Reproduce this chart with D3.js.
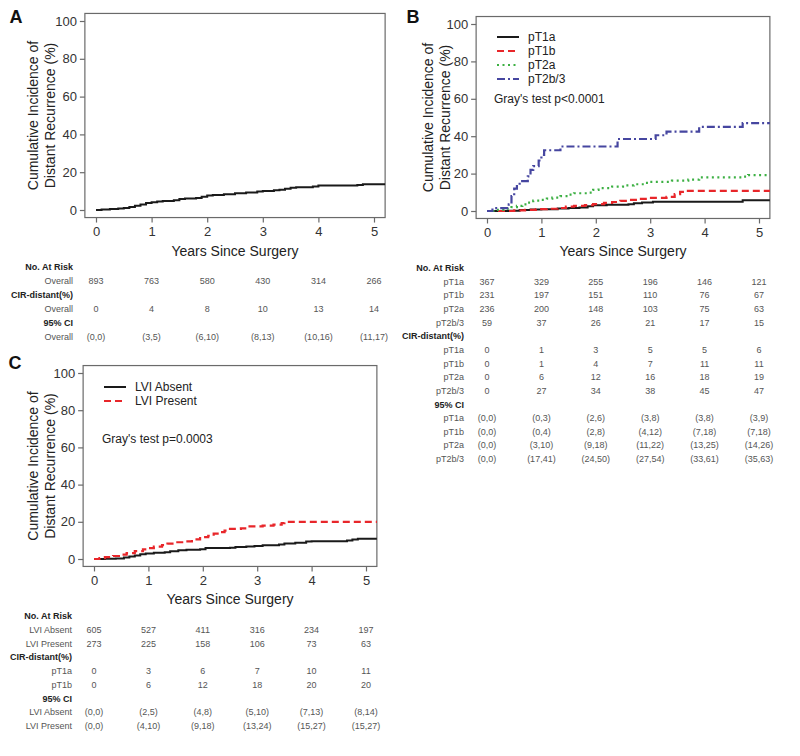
<!DOCTYPE html>
<html><head><meta charset="utf-8">
<script src="https://cdn.jsdelivr.net/npm/d3@7"></script>
<style>body{margin:0;background:#fff}svg{display:block}text{font-family:"Liberation Sans",Arial,sans-serif}</style>
</head><body>
<script>
// ---------- DATA ----------
const years = [0,1,2,3,4,5];
const yTicks = [0,20,40,60,80,100];

// Panel A
const overallCurve = [[0,0],[0.1,0.2],[0.25,0.5],[0.4,0.8],[0.5,1.1],[0.6,1.6],[0.7,2.3],[0.8,2.9],[0.9,3.7],[1.0,4.1],[1.1,4.5],[1.2,4.8],[1.4,5.2],[1.5,5.8],[1.6,6.1],[1.8,6.4],[1.9,7.0],[2.0,7.7],[2.1,8.0],[2.3,8.3],[2.5,8.8],[2.7,9.3],[2.9,9.8],[3.0,10.1],[3.2,10.4],[3.3,10.7],[3.4,11.2],[3.5,11.8],[3.6,12.0],[3.9,12.4],[4.0,12.9],[4.7,13.2],[4.8,13.6],[5.2,13.6]];
const overallRisk = ["893","763","580","430","314","266"];
const overallCIR = ["0","4","8","10","13","14"];
const overallCI = ["(0,0)","(3,5)","(6,10)","(8,13)","(10,16)","(11,17)"];

// Panel B
const stageNames = ["pT1a","pT1b","pT2a","pT2b/3"];
const pT1aCurve = [[0,0],[0.4,0.2],[0.6,0.5],[0.8,0.8],[1.0,1.0],[1.3,1.3],[1.5,1.6],[1.7,1.9],[1.85,2.6],[1.95,3.1],[2.2,3.3],[2.6,3.6],[2.7,4.1],[2.85,4.5],[3.05,5.0],[4.7,5.7],[5.2,5.7]];
const pT1bCurve = [[0,0],[0.5,0.3],[0.7,0.6],[0.9,1.0],[1.1,1.2],[1.3,1.6],[1.45,2.3],[1.6,2.7],[1.8,3.1],[1.95,3.7],[2.15,4.3],[2.3,4.8],[2.45,5.4],[2.6,5.9],[2.8,6.5],[2.95,7.0],[3.3,7.6],[3.45,9.0],[3.55,10.2],[3.6,10.8],[5.2,10.8]];
const pT2aCurve = [[0,0],[0.15,0.6],[0.3,1.2],[0.45,2.1],[0.55,2.7],[0.65,3.5],[0.75,4.5],[0.85,5.5],[1.0,6.0],[1.1,6.6],[1.2,7.1],[1.35,8.0],[1.5,8.8],[1.6,9.5],[1.85,9.8],[1.95,11.3],[2.05,12.2],[2.3,13.0],[2.5,13.7],[2.7,14.3],[2.9,15.0],[3.0,15.6],[3.4,16.2],[3.7,16.8],[3.9,18.0],[4.7,18.4],[4.8,19.2],[5.2,19.2]];
const pT2b3Curve = [[0,0],[0.1,1.5],[0.35,1.5],[0.4,3.5],[0.45,8],[0.5,12],[0.55,14],[0.6,16],[0.75,18.5],[0.8,22],[0.85,24],[0.95,27],[1.0,30],[1.05,32.5],[1.35,34.5],[2.4,38.5],[3.1,40.5],[3.3,42.5],[3.9,45],[4.7,47],[5.2,47]];
const stageRisk = [["367","329","255","196","146","121"],["231","197","151","110","76","67"],["236","200","148","103","75","63"],["59","37","26","21","17","15"]];
const stageCIR = [["0","1","3","5","5","6"],["0","1","4","7","11","11"],["0","6","12","16","18","19"],["0","27","34","38","45","47"]];
const stageCI = [["(0,0)","(0,3)","(2,6)","(3,8)","(3,8)","(3,9)"],["(0,0)","(0,4)","(2,8)","(4,12)","(7,18)","(7,18)"],["(0,0)","(3,10)","(9,18)","(11,22)","(13,25)","(14,26)"],["(0,0)","(17,41)","(24,50)","(27,54)","(33,61)","(35,63)"]];

// Panel C
const lviNames = ["LVI Absent","LVI Present"];
const lviCIRNames = ["pT1a","pT1b"];
const absentCurve = [[0,0],[0.2,0.1],[0.4,0.3],[0.55,0.8],[0.65,1.3],[0.75,1.9],[0.85,2.6],[0.95,3.0],[1.1,3.3],[1.3,3.6],[1.4,4.2],[1.55,4.7],[1.7,5.0],[1.95,5.3],[2.05,5.9],[2.5,6.1],[2.6,6.4],[2.8,6.7],[2.95,7.0],[3.1,7.4],[3.4,7.8],[3.5,8.3],[3.7,8.8],[3.9,9.4],[4.0,9.6],[4.65,9.9],[4.75,10.5],[4.85,10.9],[5.2,10.9]];
const presentCurve = [[0,0],[0.1,0.5],[0.2,1.0],[0.35,1.6],[0.5,2.4],[0.6,3.2],[0.75,4.2],[0.9,5.2],[1.0,5.9],[1.1,6.6],[1.25,7.5],[1.35,8.3],[1.5,9.0],[1.65,9.5],[1.8,10.5],[1.95,11.8],[2.1,12.5],[2.2,13.6],[2.3,14.5],[2.4,15.3],[2.5,16.2],[2.7,16.5],[2.8,17.5],[3.1,17.9],[3.3,18.5],[3.45,19.3],[3.5,20.0],[5.2,20.0]];
const lviRisk = [["605","527","411","316","234","197"],["273","225","158","106","73","63"]];
const lviCIR = [["0","3","6","7","10","11"],["0","6","12","18","20","20"]];
const lviCI = [["(0,0)","(2,5)","(4,8)","(5,10)","(7,13)","(8,14)"],["(0,0)","(4,10)","(9,18)","(13,24)","(15,27)","(15,27)"]];

// ---------- STYLES ----------
const sty = {
  black:{stroke:"#1a1a1a",dash:null,w:2},
  red:{stroke:"#e8262a",dash:"7,4",w:2.2},
  green:{stroke:"#3cb043",dash:"2,3.5",w:2.2},
  blue:{stroke:"#4646a0",dash:"8,3,2,3",w:2.2}
};

const svg = d3.select("body").append("svg").attr("width",800).attr("height",756);

function panel(cfg){
  const x = d3.scaleLinear().domain([0,5]).range(cfg.xr);
  const y = d3.scaleLinear().domain([0,100]).range(cfg.yr);
  const g = svg.append("g");
  const L=x(-0.2), R=x(5.2), T=y(104), B=y(-4);
  g.append("rect").attr("x",L).attr("y",T).attr("width",R-L).attr("height",B-T)
   .attr("fill","none").attr("stroke","#6a6a6a").attr("stroke-width",1.2);
  const xa = g.append("g").attr("transform",`translate(0,${B})`)
    .call(d3.axisBottom(x).tickValues(years).tickSize(5).tickPadding(4).tickFormat(d3.format("d")));
  const ya = g.append("g").attr("transform",`translate(${L},0)`)
    .call(d3.axisLeft(y).tickValues(yTicks).tickSize(5).tickPadding(3));
  [xa,ya].forEach(a=>{
    a.select(".domain").remove();
    a.selectAll("line").attr("stroke","#6a6a6a").attr("stroke-width",1.2);
    a.selectAll("text").attr("fill","#333").style("font-size","13px");
  });
  g.append("text").attr("x",(x(0)+x(5))/2).attr("y",B+38).attr("text-anchor","middle")
   .style("font-size","14px").attr("fill","#222").text("Years Since Surgery");
  const cy=(T+B)/2;
  [["Cumulative Incidence of",cfg.yl1],["Distant Recurrence (%)",cfg.yl2]].forEach(([t,xx])=>{
    g.append("text").attr("transform",`translate(${xx},${cy}) rotate(-90)`).attr("text-anchor","middle")
     .attr("dominant-baseline","central").style("font-size","14px").attr("fill","#222").text(t);
  });
  g.append("text").attr("x",cfg.letter[0]).attr("y",cfg.letter[1]).attr("text-anchor","middle")
   .attr("dominant-baseline","central").style("font-size","18px").style("font-weight","bold").attr("fill","#111").text(cfg.letterText);
  const line = d3.line().x(d=>x(d[0])).y(d=>y(d[1])).curve(d3.curveStepAfter);
  cfg.curves.forEach(c=>{
    const s=sty[c.style];
    g.append("path").datum(c.data).attr("d",line).attr("fill","none").attr("stroke",s.stroke)
     .attr("stroke-width",s.w).attr("stroke-dasharray",s.dash);
  });
  if(cfg.legend){
    cfg.legend.items.forEach((it,i)=>{
      const s=sty[it.style]; const yy=cfg.legend.y+i*cfg.legend.dy;
      g.append("line").attr("x1",cfg.legend.x).attr("x2",cfg.legend.x+22).attr("y1",yy).attr("y2",yy)
       .attr("stroke",s.stroke).attr("stroke-width",s.w).attr("stroke-dasharray",s.dash);
      g.append("text").attr("x",cfg.legend.x+31).attr("y",yy).attr("dominant-baseline","central")
       .style("font-size","12px").attr("fill","#222").text(it.name);
    });
    g.append("text").attr("x",cfg.gray[0]).attr("y",cfg.gray[1]).attr("dominant-baseline","central")
     .style("font-size","12px").attr("fill","#222").text(cfg.gray[2]);
  }
  let yy=cfg.tableY;
  cfg.table.forEach(sec=>{
    g.append("text").attr("x",cfg.labelR).attr("y",yy).attr("text-anchor","end").attr("dominant-baseline","central")
     .style("font-size","9px").style("font-weight","bold").attr("fill","#222").text(sec.header);
    yy+=cfg.rowH;
    sec.rows.forEach(r=>{
      g.append("text").attr("x",cfg.labelR).attr("y",yy).attr("text-anchor","end").attr("dominant-baseline","central")
       .style("font-size","9px").attr("fill","#555").text(r.label);
      r.vals.forEach((v,j)=>{
        g.append("text").attr("x",x(years[j])).attr("y",yy).attr("text-anchor","middle").attr("dominant-baseline","central")
         .style("font-size","9px").attr("fill","#555").text(v);
      });
      yy+=cfg.rowH;
    });
  });
}

panel({
  xr:[96,374], yr:[210,21], yl1:33, yl2:50, letter:[16,17], letterText:"A",
  curves:[{data:overallCurve,style:"black"}],
  tableY:267, rowH:14, labelR:73,
  table:[
    {header:"No. At Risk",rows:[{label:"Overall",vals:overallRisk}]},
    {header:"CIR-distant(%)",rows:[{label:"Overall",vals:overallCIR}]},
    {header:"95% CI",rows:[{label:"Overall",vals:overallCI}]}
  ]
});

const stageStyles=["black","red","green","blue"];
panel({
  xr:[487,759], yr:[211,24], yl1:428, yl2:445, letter:[413,17], letterText:"B",
  curves:[{data:pT1aCurve,style:"black"},{data:pT1bCurve,style:"red"},{data:pT2aCurve,style:"green"},{data:pT2b3Curve,style:"blue"}],
  legend:{x:497,y:37,dy:14,items:stageNames.map((n,i)=>({name:n,style:stageStyles[i]}))},
  gray:[494,99,"Gray's test p<0.0001"],
  tableY:268, rowH:13.65, labelR:464,
  table:[
    {header:"No. At Risk",rows:stageNames.map((n,i)=>({label:n,vals:stageRisk[i]}))},
    {header:"CIR-distant(%)",rows:stageNames.map((n,i)=>({label:n,vals:stageCIR[i]}))},
    {header:"95% CI",rows:stageNames.map((n,i)=>({label:n,vals:stageCI[i]}))}
  ]
});

panel({
  xr:[94,366], yr:[559,373], yl1:33, yl2:50, letter:[15,363], letterText:"C",
  curves:[{data:absentCurve,style:"black"},{data:presentCurve,style:"red"}],
  legend:{x:104,y:387,dy:14,items:[{name:lviNames[0],style:"black"},{name:lviNames[1],style:"red"}]},
  gray:[102,439,"Gray's test p=0.0003"],
  tableY:616, rowH:13.75, labelR:72,
  table:[
    {header:"No. At Risk",rows:lviNames.map((n,i)=>({label:n,vals:lviRisk[i]}))},
    {header:"CIR-distant(%)",rows:lviCIRNames.map((n,i)=>({label:n,vals:lviCIR[i]}))},
    {header:"95% CI",rows:lviNames.map((n,i)=>({label:n,vals:lviCI[i]}))}
  ]
});
</script>
</body></html>
